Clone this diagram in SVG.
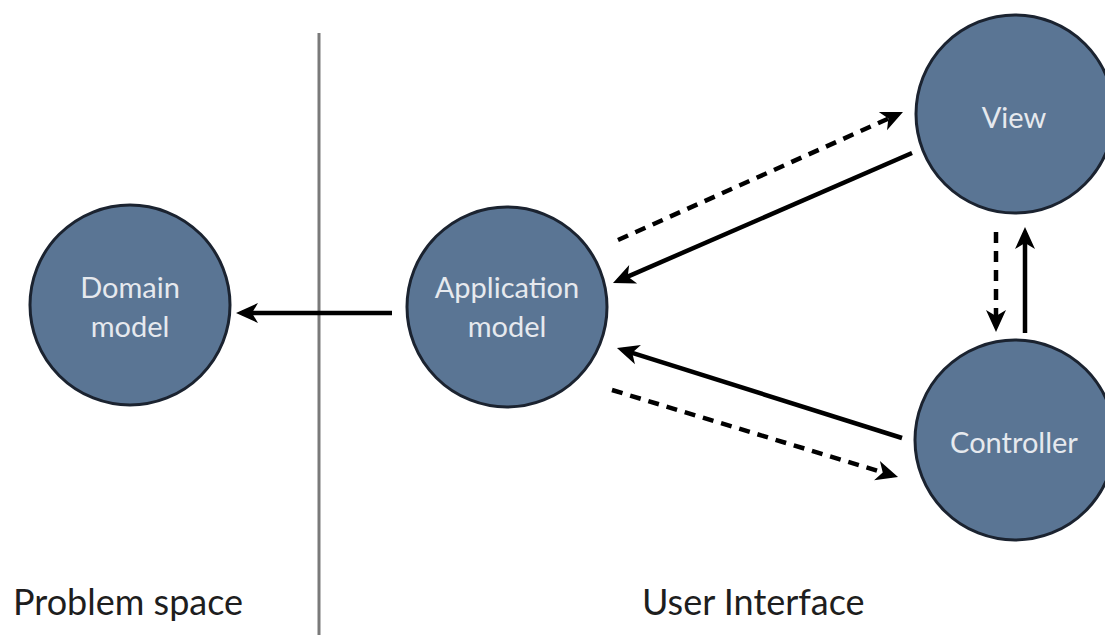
<svg xmlns="http://www.w3.org/2000/svg" width="1105" height="635" viewBox="0 0 1105 635">
  <style>
    .node circle { fill: #5a7594; stroke: #1b2330; stroke-width: 3; }
    .node text { font-family: Lato, "Open Sans", sans-serif; font-size: 29px; fill: #e6e9ee; text-anchor: middle; }
    .label { font-family: Lato, "Open Sans", sans-serif; font-size: 36px; fill: #1e1e1e; }
    .edge { fill: none; stroke: #000; stroke-width: 4.5; marker-end: url(#head); }
    .dashed { stroke-dasharray: 11 8; }
  </style>
  <defs>
    <marker id="head" markerUnits="userSpaceOnUse" markerWidth="24" markerHeight="22" refX="16" refY="10" orient="auto" overflow="visible">
      <path d="M0,0 L22,10 L0,20 L6,10 Z" fill="#000"/>
    </marker>
  </defs>
  <rect width="1105" height="635" fill="#ffffff"/>

  <!-- divider between the two spaces -->
  <line x1="319" y1="33" x2="319" y2="635" stroke="#7a7a7a" stroke-width="3"/>

  <g id="connectors">
    <path class="edge" d="M392,313 L242,313"/>
    <path class="edge dashed" d="M618,240 L897.5,114.5"/>
    <path class="edge" d="M912,153 L618.5,280.6"/>
    <path class="edge" d="M902,438 L622.7,349.8"/>
    <path class="edge dashed" d="M612,390 L892.3,475.3"/>
    <path class="edge dashed" d="M996,232 L996,326"/>
    <path class="edge" d="M1025,333 L1025,233"/>
  </g>

  <g id="domain-model" class="node">
    <circle cx="130" cy="305" r="100"/>
    <text x="130" y="298">Domain</text>
    <text x="130" y="337">model</text>
  </g>

  <g id="application-model" class="node">
    <circle cx="507" cy="307" r="100"/>
    <text x="507" y="298">Application</text>
    <text x="507" y="337">model</text>
  </g>

  <g id="view" class="node">
    <circle cx="1015" cy="114" r="99"/>
    <text x="1014" y="128">View</text>
  </g>

  <g id="controller" class="node">
    <circle cx="1015" cy="440" r="100"/>
    <text x="1014" y="453">Controller</text>
  </g>

  <text class="label" x="13" y="615">Problem space</text>
  <text class="label" x="642" y="615">User Interface</text>
</svg>
